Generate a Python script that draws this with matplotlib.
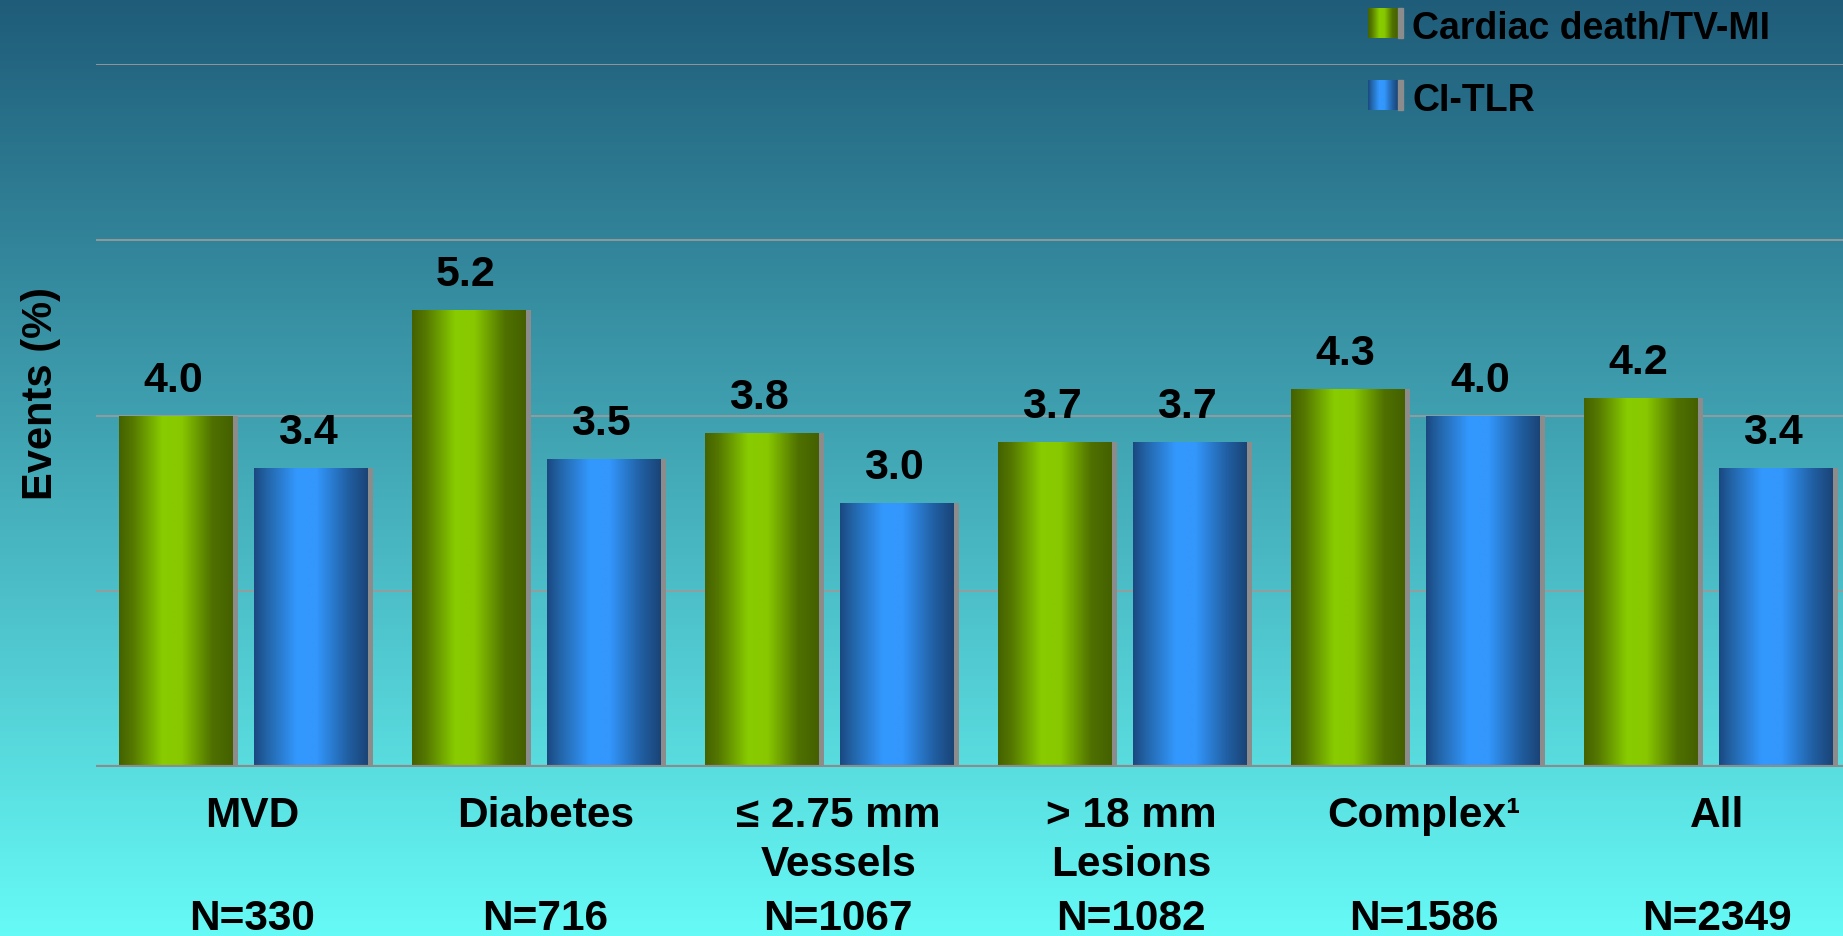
import numpy as np
import matplotlib.pyplot as plt
from matplotlib.colors import LinearSegmentedColormap
from matplotlib.transforms import blended_transform_factory

plt.rcParams['font.family'] = ['Liberation Sans', 'DejaVu Sans']
plt.rcParams['font.weight'] = 'bold'

# data
categories = ['MVD', 'Diabetes', '≤ 2.75 mm\nVessels', '> 18 mm\nLesions', 'Complex¹', 'All']
n_patients = ['N=330', 'N=716', 'N=1067', 'N=1082', 'N=1586', 'N=2349']
cardiac_death = [4.0, 5.2, 3.8, 3.7, 4.3, 4.2]
ci_tlr = [3.4, 3.5, 3.0, 3.7, 4.0, 3.4]
series_names = ['Cardiac death/TV-MI', 'CI-TLR']

W, H = 1843, 937
fig = plt.figure(figsize=(W / 100, H / 100), dpi=100)

# background gradient over the whole figure, in pixel coords
bg = fig.add_axes([0, 0, 1, 1], zorder=0)
bg.set_xlim(0, W)
bg.set_ylim(H, 0)
bg.axis('off')
bg_cmap = LinearSegmentedColormap.from_list('bg', ['#1f5c79', '#43a9b7', '#66faf6'])
bg.imshow(np.linspace(0, 1, 256).reshape(-1, 1), cmap=bg_cmap, aspect='auto',
          extent=(0, W, H, 0), zorder=0)

green_cmap = LinearSegmentedColormap.from_list(
    'green', [(0, '#446200'), (0.12, '#557800'), (0.38, '#88cc00'), (0.55, '#88c800'),
              (0.82, '#4f7000'), (1, '#446000')])
blue_cmap = LinearSegmentedColormap.from_list(
    'blue', [(0, '#1a4880'), (0.12, '#2366aa'), (0.38, '#3399ff'), (0.55, '#3397fc'),
             (0.82, '#2160a4'), (1, '#1a4476')])
shadow_color = '#8c8c8c'
grad = np.linspace(0, 1, 256).reshape(1, -1)

ax = fig.add_axes([96 / W, 1 - 768 / H, 1 - 96 / W, (768 - 65) / H], zorder=1)
ax.set_facecolor('none')
for s in ax.spines.values():
    s.set_visible(False)
ax.set_xticks([])
ax.set_yticks([])

for yv in [2, 4, 6, 8]:
    ax.axhline(yv, color='#9a9a9a', lw=1.3, zorder=1)
ax.axhline(0, color='#8c8c8c', lw=3, zorder=5)

x = np.arange(len(categories))
bar_w = 0.389
offset = 0.461
shadow_w = 0.017
xs = [x - offset / 2, x + offset / 2]

for vals, pos, cmap in [(cardiac_death, xs[0], green_cmap), (ci_tlr, xs[1], blue_cmap)]:
    # grey side shadow
    ax.bar(pos + bar_w / 2 + shadow_w / 2, vals, shadow_w, color=shadow_color, zorder=2)
    bars = ax.bar(pos, vals, bar_w, color='none', zorder=3)
    for b, v in zip(bars, vals):
        x0 = b.get_x()
        im = ax.imshow(grad, cmap=cmap, aspect='auto', zorder=3,
                       extent=(x0, x0 + bar_w, 0, v), interpolation='bilinear')
        im.set_clip_path(b)
        ax.annotate(f'{v:.1f}', (x0 + bar_w / 2, v), xytext=(-2, 18),
                    textcoords='offset points', ha='center', va='baseline',
                    fontsize=31, fontweight='bold', color='black', zorder=6)

ax.set_xlim(-0.503, 5.459)
ax.set_ylim(0, 8)

# category and N labels below the axis
trans = blended_transform_factory(ax.transData, fig.transFigure)
for i, (c, n) in enumerate(zip(categories, n_patients)):
    ax.text(i + 0.03, 1 - 796 / H, c, transform=trans, ha='center', va='top',
            fontsize=30.5, fontweight='bold', linespacing=1.3, clip_on=False)
    ax.text(i + 0.03, 1 - 930 / H, n, transform=trans, ha='center', va='baseline',
            fontsize=30.5, fontweight='bold', clip_on=False)

fig.text(41 / W, 1 - 393 / H, 'Events (%)', rotation=90, ha='center', va='center',
         fontsize=30, fontweight='bold')

# legend
for k, (name, cmap) in enumerate(zip(series_names, [green_cmap, blue_cmap])):
    y0 = 9 + k * 72
    bg.imshow(grad, cmap=cmap, aspect='auto', extent=(1368, 1398, y0 + 30, y0),
              interpolation='bilinear', zorder=2)
    bg.add_patch(plt.Rectangle((1398, y0), 5, 30, color=shadow_color, zorder=2))
    bg.text(1412, y0 + 20, name, ha='left', va='center', fontsize=27,
            fontweight='bold', color='black', zorder=3)
bg.set_xlim(0, W)
bg.set_ylim(H, 0)

fig.savefig('out.png', dpi=100)
